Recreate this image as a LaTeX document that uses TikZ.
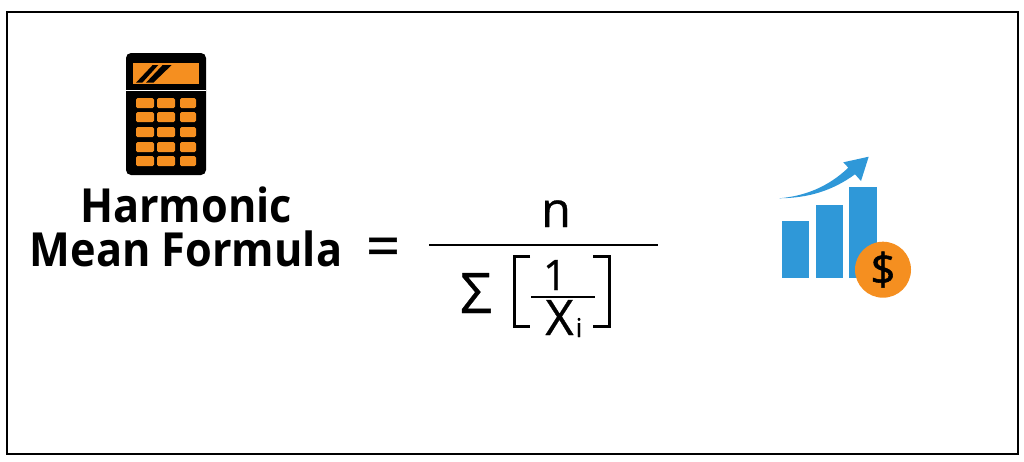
\documentclass[tikz,border=0pt]{standalone}
\usepackage{fontspec}
\setmainfont{Open Sans}
\newfontfamily\titleFont[FakeStretch=0.92]{Open Sans}
\newfontfamily\mathFont[FakeBold=0.6]{Open Sans}
\newfontfamily\dollarFont[FakeBold=1.2]{Open Sans}
\usetikzlibrary{positioning}
\definecolor{calcOrange}{HTML}{F58F20}
\definecolor{barBlue}{HTML}{2F98D8}
\tikzset{
    titleText/.style={inner sep=0pt, anchor=base, font=\fontsize{47}{47}\titleFont\bfseries, text=black},
    mathText/.style={inner sep=0pt, anchor=base, font=\fontsize{#1}{#1}\mathFont, text=black},
    keyBox/.style={fill=calcOrange, rounded corners=1.5pt},
    chartBar/.style={fill=barBlue},
    fracRule/.style={line width=2.5pt, black},
    bracketLine/.style={line width=3pt, black, line cap=butt, line join=miter},
}
\begin{document}
\begin{tikzpicture}[x=1pt, y=-1pt]
    \useasboundingbox (0, 0) rectangle (1024, 461);
    \draw[line width=2pt, black] (7, 12) rectangle (1018, 454);

    % calculator
    \fill[black, rounded corners=5pt] (126, 53) rectangle (206, 175);
    \fill[white] (126, 89.5) rectangle (206, 91);
    \fill[calcOrange] (133, 63) rectangle (199, 84);
    \fill[black] (136, 82.7) -- (152.7, 65) -- (158.3, 65) -- (142.3, 82.7) -- cycle;
    \fill[black] (146, 82.7) -- (162.7, 65) -- (171.7, 65) -- (153.3, 82.7) -- cycle;
    \foreach \ya/\yb in {98/108, 112/122, 127/137, 142/152, 156/166} {
        \foreach \xa/\xb in {136/154, 157/175, 180/196} {
            \fill[keyBox] (\xa, \ya) rectangle (\xb, \yb);
        }
    }

    % title and formula
    \node[titleText] (title1) at (186, 222) {Harmonic};
    \node[titleText] (title2) at (186, 266) {Mean Formula};
    \node[mathText=60] (eq) at (383, 267) {=};
    \node[mathText=49] (num) at (556, 227) {n};
    \draw[fracRule] (429, 245) -- (658, 245);
    \node[mathText=56] (sigma) at (476, 313) {Σ};
    \draw[bracketLine] (530, 256) -- (514.5, 256) -- (514.5, 326) -- (530, 326);
    \draw[bracketLine] (593, 256) -- (609.5, 256) -- (609.5, 326) -- (593, 326);
    \node[mathText=42] (one) at (555, 290) {1};
    \draw[fracRule] (531, 297) -- (595, 297);
    \node[mathText=49] (xvar) at (559.5, 335) {X};
    \node[mathText=26] (ivar) at (579, 337) {i};

    % chart
    \fill[chartBar] (782, 220.7) rectangle (809.3, 278);
    \fill[chartBar] (815.7, 205) rectangle (843, 278);
    \fill[chartBar] (849.3, 187) rectangle (876.7, 278);
    \fill[barBlue] (779.3, 198.3) .. controls (805, 196) and (828, 187) .. (848.3, 167.7)
        -- (843.3, 162.3) -- (868.7, 156.7) -- (861, 181) -- (855, 174.3)
        .. controls (832, 191) and (808, 198) .. (779.3, 198.3) -- cycle;
    \fill[calcOrange] (883, 269.7) circle (28);
    \node[inner sep=0pt, anchor=base, font=\fontsize{44}{44}\dollarFont, text=black] (dollar) at (883, 285) {\$};
\end{tikzpicture}
\end{document}
